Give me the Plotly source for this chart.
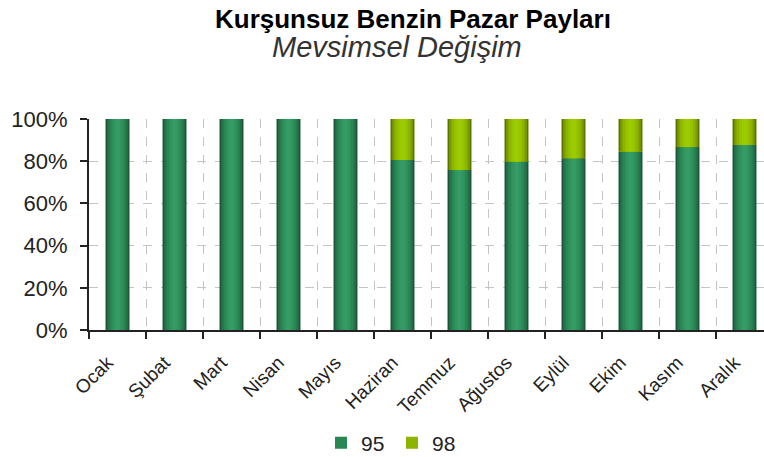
import plotly.graph_objects as go

months = ["Ocak", "Şubat", "Mart", "Nisan", "Mayıs", "Haziran", "Temmuz",
          "Ağustos", "Eylül", "Ekim", "Kasım", "Aralık"]
share_95 = [100, 100, 100, 100, 100, 80.6, 75.8, 79.8, 81.4, 84.5, 86.7, 87.7]
share_98 = [0, 0, 0, 0, 0, 19.4, 24.2, 20.2, 18.6, 15.5, 13.3, 12.3]
y_ticks = [0, 20, 40, 60, 80, 100]
y_labels = ["0%", "20%", "40%", "60%", "80%", "100%"]

# gradient layers (outer -> inner) to mimic cylindrical shading
widths = [0.42, 0.36, 0.28, 0.18, 0.08]
greens = ["#1c553a", "#247349", "#2b8656", "#31945f", "#369c66"]
yellows = ["#5a7600", "#7a9c00", "#8db500", "#97c400", "#9ccc00"]

X0, X1, Y0, Y1 = 89, 764, 330, 119
PW, PH = X1 - X0, Y0 - Y1


def px_x(x):
    return (x - X0) / PW


def px_y(y):
    return (Y0 - y) / PH


fig = go.Figure()
for i, (w, c) in enumerate(zip(widths, greens)):
    fig.add_trace(go.Bar(x=months, y=share_95, name="95", width=w,
                         marker=dict(color=c, line=dict(width=0)),
                         legendgroup="95", showlegend=(i == 2), hoverinfo="skip" if i else None))
for i, (w, c) in enumerate(zip(widths, yellows)):
    fig.add_trace(go.Bar(x=months, y=share_98, base=share_95, name="98", width=w,
                         marker=dict(color=c, line=dict(width=0)),
                         legendgroup="98", showlegend=(i == 2), hoverinfo="skip" if i else None))

fig.update_layout(
    width=764, height=457,
    barmode="overlay",
    plot_bgcolor="white", paper_bgcolor="white",
    margin=dict(l=X0, r=0, t=Y1, b=457 - Y0, autoexpand=False),
    font=dict(family="Liberation Sans, Arial", color="#222"),
    showlegend=True,
    legend=dict(orientation="h", x=px_x(392), xanchor="center", y=px_y(443), yanchor="middle",
                font=dict(size=21, color="#222"), traceorder="grouped", itemwidth=30,
                entrywidth=26, entrywidthmode="pixels",
                bgcolor="rgba(0,0,0,0)"),
    annotations=[
        dict(text="<b>Kurşunsuz Benzin Pazar Payları</b>", x=px_x(413), y=px_y(19),
             xref="paper", yref="paper", xanchor="center", yanchor="middle",
             showarrow=False, font=dict(size=26, color="black")),
        dict(text="<i>Mevsimsel Değişim</i>", x=px_x(397), y=px_y(47),
             xref="paper", yref="paper", xanchor="center", yanchor="middle",
             showarrow=False, font=dict(size=29, color="#333")),
    ],
)

fig.update_xaxes(
    range=[-0.5, -0.5 + PW / 57.0], automargin=False,
    tickson="boundaries", ticks="outside", ticklen=7, tickcolor="#222", tickwidth=2,
    showline=True, linecolor="#222", linewidth=2,
    showgrid=True, gridcolor="#c4c4c4", griddash="dash", gridwidth=1,
    tickangle=-45, tickfont=dict(size=19, color="#222"),
    ticklabelshift=-10, ticklabelstandoff=12,
)
fig.update_yaxes(
    range=[0, 100], tickvals=y_ticks, ticktext=y_labels, automargin=False,
    ticks="outside", ticklen=7, tickcolor="#222", tickwidth=2,
    showline=True, linecolor="#222", linewidth=2, ticklabelstandoff=8,
    showgrid=True, gridcolor="#c4c4c4", griddash="dash", gridwidth=1,
    tickfont=dict(size=22, color="#222"), zeroline=False,
)

fig.write_html("out.html", config={"displayModeBar": False},
               post_script="document.body.style.margin='0';")
